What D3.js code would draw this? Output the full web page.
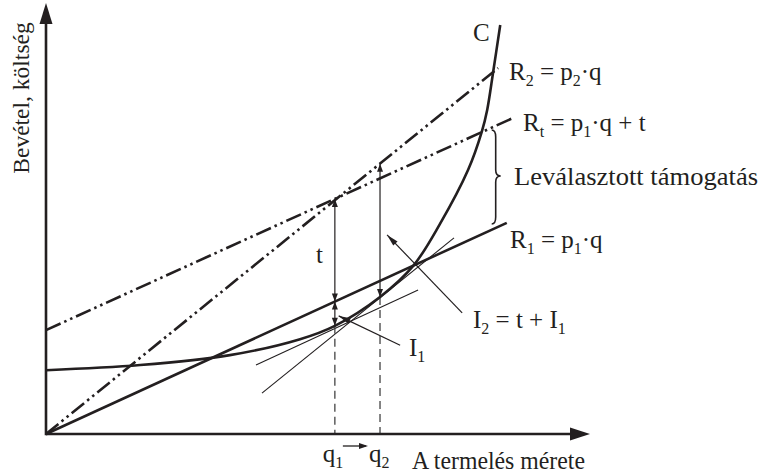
<!DOCTYPE html>
<html><head><meta charset="utf-8">
<script src="https://cdn.jsdelivr.net/npm/d3@7"></script>
<style>
html,body{margin:0;padding:0;background:#fff;}
text{font-family:"Liberation Serif","Times New Roman",serif;fill:#231f20;}
</style></head>
<body>
<svg id="chart" width="764" height="475"></svg>
<script>
// ---------- data (economic units) ----------
const axisMax = [100, 100];                 // x (quantity) and y (revenue/cost) extents
const costQ = [0, 17.3, 33.8, 46.7, 53.1, 61.4, 67.5, 72.4, 77.6, 80.1, 81.1, 82.2, 83.5];
const costV = [14.8, 16.0, 18.3, 22.0, 25.1, 31.8, 39.0, 48.7, 61.3, 70.1, 75.2, 84.0, 94.9];
const revR1 = [[0, 0], [84.7, 49.0]];       // R1 = p1·q
const revRt = [[0, 24.1], [85.8, 73.3]];    // Rt = p1·q + t
const revR2 = [[0, 0], [83.1, 84.9]];       // R2 = p2·q
const tangent1 = [[38.6, 16.0], [68.4, 33.4]];
const tangent2 = [[39.7, 9.5], [75.0, 45.5]];
const qMarks = [53.1, 61.4];                 // q1, q2
const qLabels = ["q1", "q2"];
const pointerI1 = [[65.1, 20.6], [53.8, 27.4]];
const pointerI2 = [[76.5, 28.1], [62.7, 46.2]];

// ---------- setup ----------
const svg = d3.select("#chart");
const x = d3.scaleLinear().domain([0, axisMax[0]]).range([46, 590]);
const y = d3.scaleLinear().domain([0, axisMax[1]]).range([434, 3]);
const ink = "#231f20";

const lineAt = (seg, q) => seg[0][1] + (seg[1][1] - seg[0][1]) * (q - seg[0][0]) / (seg[1][0] - seg[0][0]);
const costAt = q => costV[costQ.indexOf(q)];

function arrowHead(g, tx, ty, dx, dy, len, w) {
  const L = Math.hypot(dx, dy), ux = dx / L, uy = dy / L;
  const bx = tx - ux * len, by = ty - uy * len;
  g.append("path")
    .attr("d", `M${tx},${ty}L${bx - uy * w / 2},${by + ux * w / 2}L${bx + uy * w / 2},${by - ux * w / 2}Z`)
    .attr("fill", ink);
}

// ---------- thin tangent lines ----------
[tangent1, tangent2].forEach(s => {
  svg.append("line")
    .attr("x1", x(s[0][0])).attr("y1", y(s[0][1]))
    .attr("x2", x(s[1][0])).attr("y2", y(s[1][1]))
    .attr("stroke", ink).attr("stroke-width", 1.1);
});

// ---------- dashed verticals ----------
qMarks.forEach(q => {
  svg.append("line")
    .attr("x1", x(q)).attr("x2", x(q))
    .attr("y1", y(costAt(q))).attr("y2", y(0))
    .attr("stroke", "#444").attr("stroke-width", 1.3)
    .attr("stroke-dasharray", "8,5");
});

// ---------- revenue lines ----------
const seg = d3.line().x(d => x(d[0])).y(d => y(d[1]));
svg.append("path").attr("d", seg(revR1)).attr("fill", "none")
  .attr("stroke", ink).attr("stroke-width", 2.6);
svg.append("path").attr("d", seg(revRt)).attr("fill", "none")
  .attr("stroke", ink).attr("stroke-width", 2.6).attr("stroke-dasharray", "16,4,2.5,4,2.5,4");
svg.append("path").attr("d", seg(revR2)).attr("fill", "none")
  .attr("stroke", ink).attr("stroke-width", 2.6).attr("stroke-dasharray", "16,4,2.5,4,2.5,4");

// ---------- cost curve ----------
const cost = costQ.map((q, i) => [q, costV[i]]);
svg.append("path")
  .attr("d", d3.line().x(d => x(d[0])).y(d => y(d[1])).curve(d3.curveCatmullRom.alpha(0.5))(cost))
  .attr("fill", "none").attr("stroke", ink).attr("stroke-width", 2.6);

// ---------- vertical double arrows ----------
const ag = svg.append("g");
function dblArrow(q, v1, v2) {
  const X = x(q), Y1 = y(v1), Y2 = y(v2);
  ag.append("line").attr("x1", X).attr("x2", X).attr("y1", Y1).attr("y2", Y2)
    .attr("stroke", ink).attr("stroke-width", 1.2);
  arrowHead(ag, X, Y1, 0, Y1 - Y2, 8, 6);
  arrowHead(ag, X, Y2, 0, Y2 - Y1, 8, 6);
}
const q1 = qMarks[0], q2 = qMarks[1];
dblArrow(q1, lineAt(revRt, q1), lineAt(revR1, q1));   // t
dblArrow(q1, lineAt(revR1, q1), costAt(q1));          // I1
dblArrow(q2, lineAt(revR2, q2), costAt(q2));          // I2

// ---------- pointers ----------
[pointerI1, pointerI2].forEach(p => {
  const x0 = x(p[0][0]), y0 = y(p[0][1]), x1 = x(p[1][0]), y1 = y(p[1][1]);
  ag.append("line").attr("x1", x0).attr("y1", y0).attr("x2", x1).attr("y2", y1)
    .attr("stroke", ink).attr("stroke-width", 1.2);
  arrowHead(ag, x1, y1, x1 - x0, y1 - y0, 12, 6);
});

// ---------- brace between Rt and R1 ----------
{
  const qb = 83.4, bx = x(qb) - 4;
  const top = y(lineAt(revRt, qb)) + 6, bot = y(lineAt(revR1, qb)) - 2;
  const mid = (top + bot) / 2 - 1;
  svg.append("path")
    .attr("d", `M${bx - 4},${top} Q${bx},${top} ${bx},${top + 7} L${bx},${mid - 6} Q${bx},${mid} ${bx + 5},${mid} Q${bx},${mid} ${bx},${mid + 6} L${bx},${bot - 7} Q${bx},${bot} ${bx - 4},${bot}`)
    .attr("fill", "none").attr("stroke", ink).attr("stroke-width", 1.6);
}

// ---------- axes ----------
svg.append("line").attr("x1", x(0)).attr("y1", y(0)).attr("x2", x(axisMax[0]) - 12).attr("y2", y(0))
  .attr("stroke", ink).attr("stroke-width", 2.6);
svg.append("line").attr("x1", x(0)).attr("y1", y(0) + 1.3).attr("x2", x(0)).attr("y2", y(axisMax[1]) + 12)
  .attr("stroke", ink).attr("stroke-width", 2.6);
arrowHead(svg, x(axisMax[0]), y(0), 1, 0, 20, 13);
arrowHead(svg, x(0), y(axisMax[1]), 0, -1, 21, 13);

// ---------- text ----------
function label(px, py, parts, size, opts) {
  const t = svg.append("text").attr("x", px).attr("y", py).attr("font-size", size);
  if (opts && opts.len) t.attr("textLength", opts.len).attr("lengthAdjust", "spacingAndGlyphs");
  let sub = false;
  parts.forEach(p => {
    const isSub = Array.isArray(p);
    const s = isSub ? p[0] : p;
    const ts = t.append("tspan").text(s);
    if (isSub && !sub) { ts.attr("dy", 6).attr("font-size", size * 0.64); sub = true; }
    else if (!isSub && sub) { ts.attr("dy", -6); sub = false; }
  });
  return t;
}
const fs = 25;
label(473, 41, ["C"], fs);
label(509, 80, ["R", ["2"], " = p", ["2"], "·q"], fs);
label(523, 131, ["R", ["t"], " = p", ["1"], "·q + t"], fs);
label(514, 185, ["Leválasztott támogatás"], fs, {len: 244});
label(510, 248, ["R", ["1"], " = p", ["1"], "·q"], fs);
label(316, 263, ["t"], fs);
label(473, 328, ["I", ["2"], " = t + I", ["1"]], fs);
label(409, 356, ["I", ["1"]], fs);
label(x(qMarks[0]) - 12, 462, ["q", ["1"]], fs);
label(x(qMarks[1]) - 11, 462, ["q", ["2"]], fs);
label(412, 469, ["A termelés mérete"], fs, {len: 173});
// small arrow q1 -> q2
svg.append("line").attr("x1", x(qMarks[0]) + 8).attr("x2", x(qMarks[1]) - 14)
  .attr("y1", 446).attr("y2", 446).attr("stroke", ink).attr("stroke-width", 1.3);
arrowHead(svg, x(qMarks[1]) - 12, 446, 1, 0, 9, 6);

svg.append("text").attr("transform", "translate(29,98) rotate(-90)")
  .attr("text-anchor", "middle").attr("font-size", 23.5).text("Bevétel, költség");
</script>
</body></html>
